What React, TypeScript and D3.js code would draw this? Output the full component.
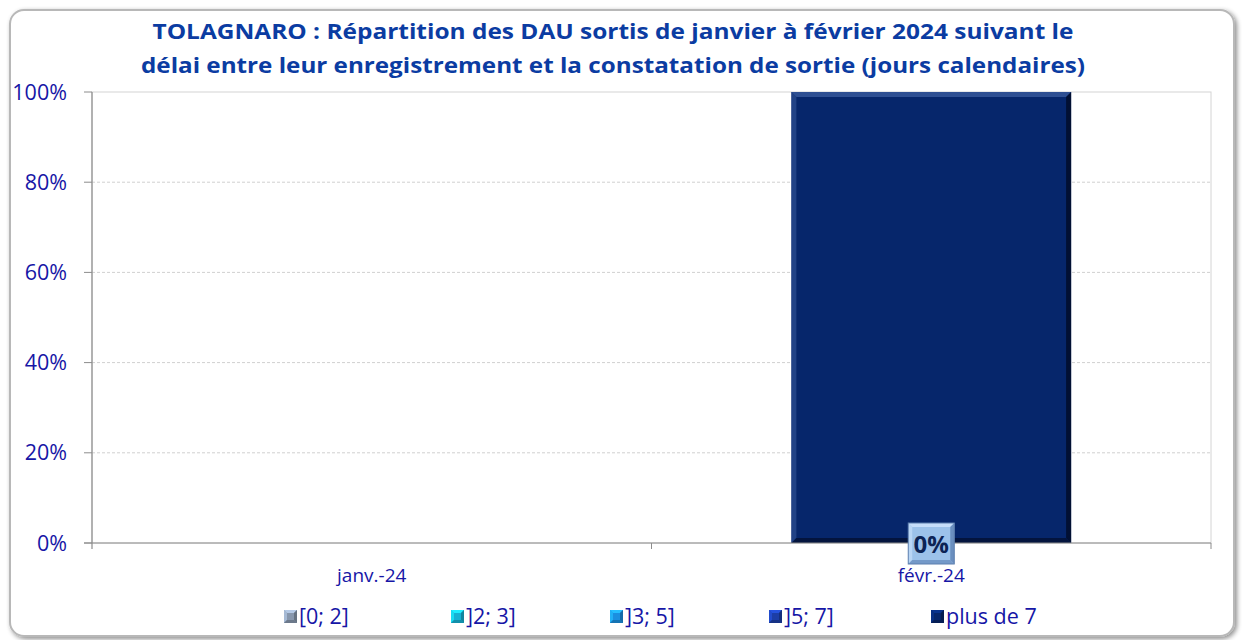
import React from "react";
import * as d3 from "d3";

const titleLines = [
  "TOLAGNARO : Répartition des DAU sortis de janvier à février 2024 suivant le",
  "délai entre leur enregistrement et la constatation de sortie (jours calendaires)",
];
const categories = ["janv.-24", "févr.-24"];
const seriesNames = ["[0; 2]", "]2; 3]", "]3; 5]", "]5; 7]", "plus de 7"];
const seriesColors = ["#8797ad", "#16b2d4", "#1b8fe0", "#1c3ea6", "#06266b"];
// values in % per series, per category (null = no data)
const valuesJan: (number | null)[] = [null, null, null, null, null];
const valuesFeb: (number | null)[] = [0, 0, 0, 0, 100];
const seriesValues = seriesNames.map((_, i) => [valuesJan[i], valuesFeb[i]]);
const labelSeries = "]5; 7]";
const labelCategory = "févr.-24";
const yTicks = [0, 20, 40, 60, 80, 100];

const W = 1242;
const H = 640;
const plot = { left: 92, right: 1211, top: 92, bottom: 543 };

function Bevel({ x, y, w, h, fill, light, dark, b }: any) {
  return (
    <g>
      <rect x={x} y={y} width={w} height={h} fill={fill} />
      <polygon points={`${x},${y} ${x + w},${y} ${x + w - b},${y + b} ${x + b},${y + b}`} fill={light} />
      <polygon points={`${x},${y} ${x + b},${y + b} ${x + b},${y + h - b} ${x},${y + h}`} fill={light} opacity={0.7} />
      <polygon points={`${x + w},${y} ${x + w},${y + h} ${x + w - b},${y + h - b} ${x + w - b},${y + b}`} fill={dark} />
      <polygon points={`${x},${y + h} ${x + w},${y + h} ${x + w - b},${y + h - b} ${x + b},${y + h - b}`} fill={dark} opacity={0.8} />
    </g>
  );
}

export default function App() {
  const x = d3.scaleBand<string>().domain(categories).range([plot.left, plot.right]).paddingInner(0.5).paddingOuter(0.25);
  const xCat = d3.scaleBand<string>().domain(categories).range([plot.left, plot.right]);
  const y = d3.scaleLinear().domain([0, 100]).range([plot.bottom, plot.top]);

  const bars: any[] = [];
  categories.forEach((c, ci) => {
    let acc = 0;
    seriesNames.forEach((s, si) => {
      const v = seriesValues[si][ci];
      if (v == null) return;
      const y0 = acc;
      acc += v;
      bars.push({ c, s, si, y0, y1: acc, v });
    });
  });

  const labels = bars.filter((b) => b.s === labelSeries && b.c === labelCategory);
  const font = "'Open Sans', 'Noto Sans', sans-serif";
  const legendX = [284, 451, 610, 769, 931];
  const axisText = "#1616a6";

  return (
    <svg width={W} height={H} style={{ position: "absolute", left: 0, top: 0, background: "#fff" }} fontFamily={font}>
      <defs>
        <filter id="sh" x="-5%" y="-5%" width="110%" height="110%">
          <feGaussianBlur in="SourceAlpha" stdDeviation="2.5" />
          <feOffset dx="2" dy="2" result="o" />
          <feComponentTransfer><feFuncA type="linear" slope="0.45" /></feComponentTransfer>
          <feMerge><feMergeNode /><feMergeNode in="SourceGraphic" /></feMerge>
        </filter>
      </defs>
      <rect x={10} y={10} width={1224} height={626} rx={14} fill="#fff" stroke="#b8b8b8" strokeWidth={2} filter="url(#sh)" />

      {titleLines.map((t, i) => (
        <text key={i} x={613} y={39 + i * 34} textAnchor="middle" fontSize={21} fontWeight="bold" fill="#0b3ca2"
          textLength={i === 0 ? 921 : 944} lengthAdjust="spacingAndGlyphs">{t}</text>
      ))}

      {/* plot area */}
      <rect x={plot.left} y={plot.top} width={plot.right - plot.left} height={plot.bottom - plot.top} fill="#fff" stroke="#d4d4d4" strokeWidth={1} />
      {yTicks.filter((t) => t > 0 && t < 100).map((t) => (
        <line key={t} x1={plot.left} x2={plot.right} y1={y(t)} y2={y(t)} stroke="#d0d0d0" strokeDasharray="3,2" />
      ))}

      {bars.filter((b) => b.v > 0).map((b, i) => {
        const bx = x(b.c)!;
        const bw = x.bandwidth();
        const yt = y(b.y1);
        const h = y(b.y0) - yt;
        return <Bevel key={i} x={bx} y={yt} w={bw} h={h} fill={seriesColors[b.si]} light="#2e4f92" dark="#021033" b={5} />;
      })}

      {/* axes */}
      <line x1={plot.left} x2={plot.left} y1={plot.top} y2={plot.bottom + 6} stroke="#8c8c8c" strokeWidth={1.2} />
      <line x1={plot.left - 8} x2={plot.right} y1={plot.bottom} y2={plot.bottom} stroke="#8c8c8c" strokeWidth={1.2} />
      {yTicks.map((t) => (
        <g key={t}>
          <line x1={plot.left - 8} x2={plot.left} y1={y(t)} y2={y(t)} stroke="#8c8c8c" />
          <text x={67} y={y(t) + 7.5} textAnchor="end" fontSize={21.5} fill={axisText}>{t}%</text>
        </g>
      ))}
      {categories.map((c) => (
        <g key={c}>
          <line x1={xCat(c)! + xCat.bandwidth()} x2={xCat(c)! + xCat.bandwidth()} y1={plot.bottom} y2={plot.bottom + 6} stroke="#8c8c8c" />
          <text x={xCat(c)! + xCat.bandwidth() / 2} y={582} textAnchor="middle" fontSize={19} fill={axisText}>{c}</text>
        </g>
      ))}

      {labels.map((b, i) => {
        const cx = x(b.c)! + x.bandwidth() / 2;
        const cy = y(b.y1);
        return (
          <g key={i}>
            <Bevel x={cx - 23} y={cy - 20} w={46} h={41} fill="#9cc2ea" light="#c6defa" dark="#6a8fbf" b={4} />
            <rect x={cx - 23} y={cy - 20} width={46} height={41} fill="none" stroke="#5d7fae" strokeWidth={1} />
            <text x={cx} y={cy + 10} textAnchor="middle" fontSize={24} fontWeight="bold" fill="#0c2456">{Math.round(b.v)}%</text>
          </g>
        );
      })}

      {/* legend */}
      {seriesNames.map((s, i) => (
        <g key={s}>
          <Bevel x={legendX[i]} y={610} w={13} h={13} fill={seriesColors[i]} light={d3.color(seriesColors[i])!.brighter(0.8).formatHex()} dark={d3.color(seriesColors[i])!.darker(0.8).formatHex()} b={3} />
          <text x={legendX[i] + 15} y={624} fontSize={21.5} fill={axisText}>{s}</text>
        </g>
      ))}
    </svg>
  );
}
